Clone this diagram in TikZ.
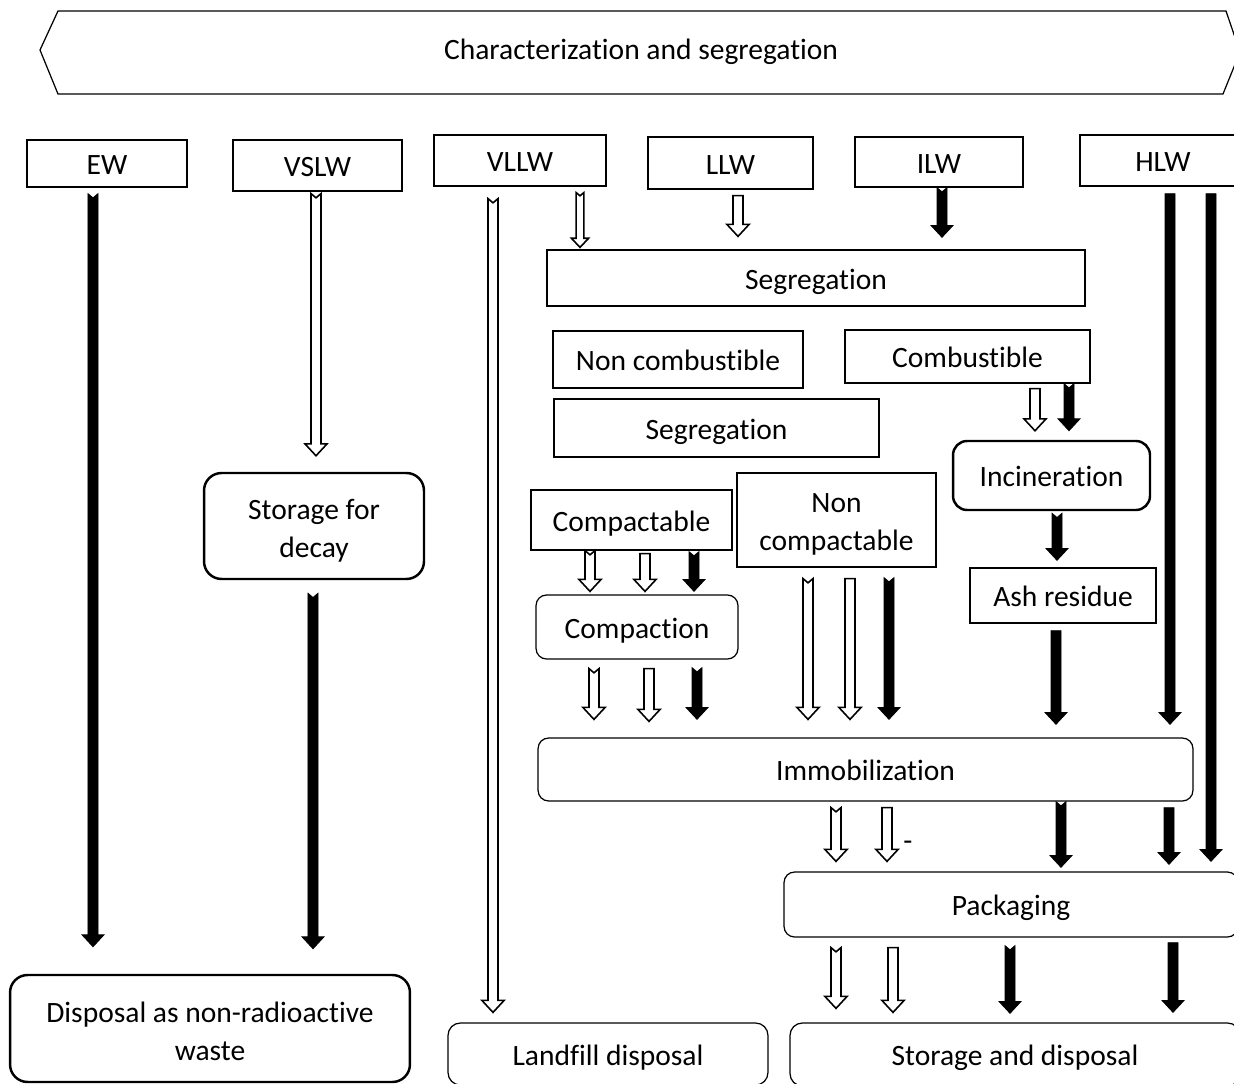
\documentclass[tikz,border=0pt]{standalone}
\usepackage{fontspec}
\setmainfont{Carlito}[Ligatures=NoCommon]
\usetikzlibrary{calc}

% default block-arrow dimensions (shaft half width, head half width, head length, tail notch)
\def\bsw{2.85pt}\def\bhw{6.3pt}\def\bhl{6.8pt}\def\bnd{0pt}

\tikzset{
  lbl/.style={font=\fontsize{16.8}{21.6}\selectfont, align=center, inner sep=0pt,
              text height=13pt, text depth=0pt},
  twoline/.style={text height=#1, text depth=0pt},
  box/.style={lbl, draw, line width=0.7pt},
  rbox/.style={box, rounded corners=#1},
  thickrbox/.style={box, line width=1.4pt, rounded corners=#1},
  notched/.code={\def\bnd{2.4pt}},
  thin arrow/.code={\def\bsw{2.2pt}\def\bhw{4.9pt}\def\bhl{5.2pt}\def\bnd{1.8pt}},
  hollow/.style={draw, fill=white, line width=0.9pt, line join=miter},
  filled/.style={draw, fill=black, line width=0.4pt, line join=miter},
}

% vertical block arrow: [style]{x}{from anchor}{top offset}{to anchor}{bottom offset}
\newcommand\blockarrow[6][]{%
  \path[#1] let \p1=($(#3)+(0,#4)$), \p2=($(#5)+(0,#6)$), \p3=(#2,0) in
    (\x3-\bsw,\y1) -- (\x3,\y1-\bnd) -- (\x3+\bsw,\y1) -- (\x3+\bsw,\y2+\bhl)
    -- (\x3+\bhw,\y2+\bhl) -- (\x3,\y2) -- (\x3-\bhw,\y2+\bhl) -- (\x3-\bsw,\y2+\bhl) -- cycle;}

\begin{document}
\begin{tikzpicture}[x=0.02cm, y=-0.02cm]
\useasboundingbox (0,0) rectangle (1234,1084);
\clip (0,0) rectangle (1234,1084);

% banner
\draw[line width=0.7pt] (58,11) -- (1226,11) -- (1240,52) -- (1223,94) -- (58,94) -- (40,50) -- cycle;
\node[lbl] (banner) at (641,48) {Characterization and segregation};

% waste classes
\node[box, minimum width=3.2cm,  minimum height=0.94cm] (ew)   at (107,163.5) {EW};
\node[box, minimum width=3.38cm, minimum height=1.02cm] (vslw) at (317.5,165.5) {VSLW};
\node[box, minimum width=3.44cm, minimum height=1.02cm] (vllw) at (520,160.5) {VLLW};
\node[box, minimum width=3.3cm,  minimum height=1.04cm] (llw)  at (730.5,163) {LLW};
\node[box, minimum width=3.36cm, minimum height=1.0cm]  (ilw)  at (939,162) {ILW};
\node[box, minimum width=3.32cm, minimum height=1.02cm] (hlw)  at (1163,160.5) {HLW};

% treatment steps
\node[box, minimum width=10.76cm, minimum height=1.12cm] (seg1) at (816,278) {Segregation};
\node[box, minimum width=5.0cm,  minimum height=1.14cm] (noncomb) at (678,359.5) {Non combustible};
\node[box, minimum width=4.9cm,  minimum height=1.06cm] (comb) at (967.5,356.5) {Combustible};
\node[box, minimum width=6.5cm,  minimum height=1.16cm] (seg2) at (716.5,428) {Segregation};
\node[thickrbox=8pt, minimum width=3.94cm, minimum height=1.38cm] (incin) at (1051.5,475.5) {Incineration};
\node[thickrbox=10pt, twoline=35.3pt, minimum width=4.4cm, minimum height=2.12cm] (decay) at (314,526) {Storage for\\decay};
\node[box, minimum width=4.02cm, minimum height=1.2cm]  (compactable) at (631.5,520) {Compactable};
\node[box, twoline=34.6pt, minimum width=3.98cm, minimum height=1.88cm] (noncompactable) at (836.5,520) {Non\\compactable};
\node[box, minimum width=3.72cm, minimum height=1.1cm]  (ash) at (1063,595.5) {Ash residue};
\node[rbox=6pt, minimum width=4.04cm, minimum height=1.28cm] (compaction) at (637,627) {Compaction};
\node[rbox=6pt, minimum width=13.1cm, minimum height=1.26cm] (immob) at (865.5,769.5) {Immobilization};
\node[rbox=6pt, minimum width=9.08cm, minimum height=1.3cm]  (pack) at (1011,904.5) {Packaging};

% end points
\node[thickrbox=10pt, twoline=36.4pt, minimum width=8.0cm, minimum height=2.14cm] (nonrad) at (210,1028.5) {Disposal as non-radioactive\\waste};
\node[rbox=7pt, minimum width=6.4cm, minimum height=1.24cm] (landfill) at (608,1054) {Landfill disposal};
\node[rbox=7pt, minimum width=9.0cm, minimum height=1.26cm] (storage) at (1015,1054.5) {Storage and disposal};

% class routes
\blockarrow[filled, notched]{93}{ew.south}{6}{nonrad.north}{-27}
\blockarrow[hollow, notched]{316}{vslw.south}{2}{decay.north}{-16}
\blockarrow[filled, notched]{313}{decay.south}{13}{nonrad.north}{-25}
\blockarrow[hollow, notched]{493}{vllw.south}{12}{landfill.north}{-10}
\blockarrow[hollow, thin arrow]{580}{vllw.south}{6}{seg1.north}{-2}
\blockarrow[hollow]{738}{llw.south}{6}{seg1.north}{-13}
\blockarrow[filled, notched]{942}{ilw.south}{0}{seg1.north}{-12}
\blockarrow[filled]{1170}{hlw.south}{7}{immob.north}{-13}
\blockarrow[filled]{1211}{hlw.south}{7}{pack.north}{-10}

% combustible branch
\blockarrow[hollow]{1035}{comb.south}{5}{incin.north}{-9}
\blockarrow[filled, notched]{1069}{comb.south}{0}{incin.north}{-9}
\blockarrow[filled, notched]{1057}{incin.south}{2}{ash.north}{-7}
\blockarrow[filled]{1056}{ash.south}{7}{immob.north}{-13}

% compactable branch
\blockarrow[hollow, notched]{590}{compactable.south}{0}{compaction.north}{-3}
\blockarrow[hollow]{645}{compactable.south}{3}{compaction.north}{-3}
\blockarrow[filled, notched]{694}{compactable.south}{1}{compaction.north}{-3}
\blockarrow[hollow, notched]{594}{compaction.south}{9}{immob.north}{-18}
\blockarrow[hollow]{649}{compaction.south}{9}{immob.north}{-16}
\blockarrow[filled, notched]{697}{compaction.south}{8}{immob.north}{-18}

% non compactable branch
\blockarrow[hollow, notched]{808}{noncompactable.south}{11}{immob.north}{-18}
\blockarrow[hollow]{850}{noncompactable.south}{11}{immob.north}{-18}
\blockarrow[filled, notched]{889}{noncompactable.south}{10}{immob.north}{-18}

% immobilization to packaging
\blockarrow[hollow, notched]{836}{immob.south}{6}{pack.north}{-10}
\blockarrow[hollow]{887}{immob.south}{6}{pack.north}{-10}
\node[lbl] (minus) at (908,839) {-};
\blockarrow[filled, notched]{1061}{immob.south}{0}{pack.north}{-4}
\blockarrow[filled]{1169}{immob.south}{6}{pack.north}{-7}

% packaging to storage
\blockarrow[hollow, notched]{836}{pack.south}{10}{storage.north}{-14}
\blockarrow[hollow]{893}{pack.south}{10}{storage.north}{-10}
\blockarrow[filled, notched]{1010}{pack.south}{8}{storage.north}{-9}
\blockarrow[filled]{1173}{pack.south}{5}{storage.north}{-10}
\end{tikzpicture}
\end{document}
